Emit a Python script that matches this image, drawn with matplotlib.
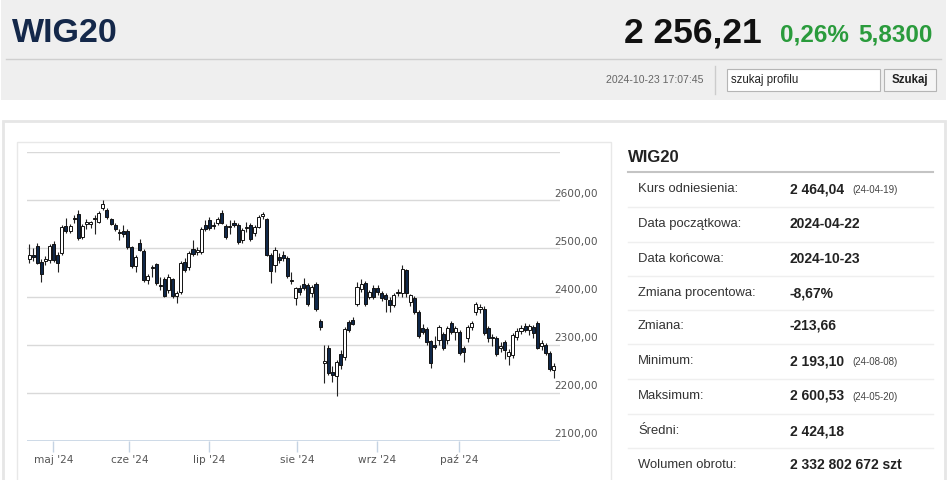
import numpy as np
import matplotlib
matplotlib.use("Agg")
import matplotlib.pyplot as plt
from matplotlib.patches import Rectangle

# ---------- dane ----------
# OHLC dla kolejnych sesji 2024-04-22 .. 2024-10-23
opens = [2478, 2486, 2506, 2472, 2474, 2476, 2510, 2486, 2490, 2546,
         2537, 2564, 2572, 2523, 2550, 2550, 2562, 2556, 2584, 2580,
         2561, 2548, 2534, 2536, 2536, 2503, 2463, 2511, 2495, 2434,
         2460, 2467, 2424, 2436, 2414, 2436, 2402, 2410, 2472, 2461,
         2499, 2492, 2493, 2549, 2559, 2548, 2553, 2574, 2546, 2545,
         2553, 2549, 2518, 2542, 2549, 2532, 2545, 2567, 2561, 2486,
         2466, 2482, 2486, 2480, 2432, 2397, 2418, 2426, 2424, 2407,
         2426, 2349, 2262, 2293, 2243, 2235, 2280, 2274, 2347, 2351,
         2384, 2416, 2428, 2400, 2418, 2418, 2407, 2403, 2393, 2383,
         2408, 2407, 2455, 2389, 2397, 2368, 2334, 2332, 2307, 2300,
         2309, 2322, 2309, 2345, 2326, 2326, 2292, 2313, 2336, 2368,
         2374, 2374, 2334, 2316, 2314, 2292, 2305, 2276, 2278, 2316,
         2328, 2339, 2330, 2336, 2345, 2296, 2300, 2282, 2248]
highs = [2510, 2500, 2512, 2478, 2484, 2510, 2516, 2492, 2548, 2563,
         2550, 2570, 2580, 2550, 2562, 2558, 2570, 2578, 2600.5, 2584,
         2564, 2552, 2540, 2548, 2540, 2506, 2486, 2520, 2498, 2446,
         2466, 2470, 2440, 2440, 2446, 2438, 2412, 2474, 2480, 2494,
         2518, 2502, 2544, 2560, 2566, 2556, 2566, 2580, 2550, 2560,
         2560, 2552, 2542, 2556, 2552, 2548, 2570, 2576, 2564, 2490,
         2502, 2490, 2494, 2484, 2450, 2420, 2424, 2438, 2428, 2424,
         2430, 2354, 2300, 2300, 2256, 2268, 2288, 2336, 2352, 2358,
         2430, 2437, 2432, 2414, 2424, 2424, 2412, 2408, 2398, 2408,
         2416, 2466, 2458, 2406, 2402, 2372, 2342, 2336, 2310, 2318,
         2340, 2326, 2338, 2350, 2338, 2330, 2296, 2340, 2350, 2388,
         2384, 2380, 2338, 2322, 2318, 2306, 2310, 2290, 2324, 2334,
         2340, 2344, 2342, 2340, 2350, 2310, 2304, 2286, 2262]
lows = [2470, 2474, 2468, 2430, 2466, 2470, 2472, 2450, 2486, 2532,
        2532, 2552, 2518, 2520, 2540, 2542, 2530, 2552, 2580, 2562,
        2548, 2536, 2518, 2524, 2498, 2460, 2451, 2494, 2430, 2426,
        2440, 2424, 2414, 2398, 2408, 2396, 2386, 2406, 2450, 2456,
        2484, 2486, 2488, 2536, 2538, 2540, 2548, 2550, 2520, 2530,
        2544, 2510, 2512, 2534, 2516, 2526, 2542, 2562, 2484, 2428,
        2452, 2470, 2474, 2438, 2426, 2383, 2404, 2414, 2380, 2400,
        2370, 2330, 2220, 2236, 2222, 2193.1, 2250, 2268, 2326, 2340,
        2380, 2410, 2380, 2394, 2395, 2404, 2390, 2368, 2368, 2378,
        2402, 2400, 2400, 2380, 2364, 2314, 2322, 2300, 2252, 2290,
        2300, 2288, 2302, 2322, 2310, 2278, 2264, 2306, 2330, 2362,
        2366, 2320, 2306, 2296, 2276, 2284, 2270, 2258, 2272, 2310,
        2322, 2326, 2320, 2314, 2290, 2288, 2278, 2244, 2231]
closes = [2486, 2482, 2470, 2446, 2478, 2506, 2476, 2470, 2544, 2536,
          2546, 2562, 2522, 2546, 2556, 2554, 2563, 2574, 2592, 2566,
          2551, 2540, 2532, 2530, 2503, 2463, 2482, 2497, 2434, 2442,
          2462, 2428, 2422, 2401, 2441, 2401, 2408, 2470, 2455, 2490,
          2489, 2497, 2540, 2540, 2542, 2546, 2561, 2553, 2524, 2546,
          2549, 2514, 2538, 2544, 2520, 2545, 2566, 2571, 2486, 2453,
          2497, 2476, 2480, 2443, 2434, 2418, 2410, 2418, 2384, 2420,
          2374, 2337, 2266, 2241, 2237, 2264, 2257, 2332, 2330, 2343,
          2420, 2426, 2384, 2410, 2399, 2410, 2397, 2395, 2383, 2403,
          2410, 2457, 2407, 2403, 2368, 2318, 2326, 2305, 2262, 2294,
          2336, 2293, 2334, 2326, 2334, 2282, 2284, 2336, 2345, 2384,
          2378, 2324, 2314, 2314, 2281, 2297, 2288, 2284, 2320, 2328,
          2334, 2330, 2338, 2324, 2292, 2304, 2282, 2249, 2256.21]

y_ticks = [2100, 2200, 2300, 2400, 2500, 2600]
y_grid = [2200, 2300, 2400, 2500, 2600, 2700]
month_labels = ["maj '24", "cze '24", "lip '24", "sie '24", "wrz '24", "paź '24"]
month_pos = [5.9, 24.5, 43.9, 65.3, 84.8, 104.9]

info_labels = ["Kurs odniesienia:", "Data początkowa:", "Data końcowa:",
               "Zmiana procentowa:", "Zmiana:", "Minimum:", "Maksimum:",
               "Średni:", "Wolumen obrotu:"]
info_values = ["2 464,04", "2024-04-22", "2024-10-23", "-8,67%", "-213,66",
               "2 193,10", "2 600,53", "2 424,18", "2 332 802 672 szt"]
info_dates = ["(24-04-19)", "", "", "", "", "(24-08-08)", "(24-05-20)", "", ""]

W, H = 948, 480
NAVY = "#0f2748"
GREEN = "#2a9b3c"
SANS = ["Liberation Sans", "DejaVu Sans"]

fig = plt.figure(figsize=(W / 100, H / 100), dpi=100)
fig.patch.set_facecolor("white")

# tło strony w pikselach
bg = fig.add_axes([0, 0, 1, 1])
bg.set_xlim(0, W)
bg.set_ylim(H, 0)
bg.axis("off")

# nagłówek
bg.add_patch(Rectangle((1, 0), W - 3, 100, facecolor="#efefef", edgecolor="none"))
bg.plot([6, 941], [58.5, 58.5], color="#cfcfcf", lw=1)
bg.text(12, 33, "WIG20", fontsize=24.5, fontweight="bold", color="#14284a",
        family=SANS, va="center", ha="left")
bg.text(762, 33, "2 256,21", fontsize=25.5, fontweight="bold", color="#111111",
        family=SANS, va="center", ha="right")
bg.text(780, 35, "0,26%", fontsize=17.5, fontweight="bold", color=GREEN,
        family=SANS, va="center", ha="left")
bg.text(858, 35, "5,8300", fontsize=17.5, fontweight="bold", color=GREEN,
        family=SANS, va="center", ha="left")
bg.text(704, 80, "2024-10-23 17:07:45", fontsize=7.6, color="#666666",
        family=SANS, va="center", ha="right")
bg.plot([715, 715], [66, 94], color="#cccccc", lw=1)
bg.add_patch(Rectangle((727, 69), 153, 22, facecolor="white", edgecolor="#b5b5b5", lw=0.8))
bg.text(731, 80, "szukaj profilu", fontsize=8.3, color="#222222", family=SANS,
        va="center", ha="left")
bg.add_patch(Rectangle((884, 69), 52, 22, facecolor="#f5f5f5", edgecolor="#b5b5b5", lw=0.8))
bg.text(910, 80, "Szukaj", fontsize=8.3, fontweight="bold", color="#222222",
        family=SANS, va="center", ha="center")

# panel z treścią
bg.add_patch(Rectangle((3, 121), 942, 370, facecolor="white", edgecolor="#e6e6e6", lw=2))
bg.add_patch(Rectangle((17, 142), 594, 345, facecolor="white", edgecolor="#e8e8e8", lw=1))

# tabela po prawej
bg.text(628, 157, "WIG20", fontsize=12, fontweight="bold", color="#222222",
        family=SANS, va="center", ha="left")
bg.plot([628, 933], [172, 172], color="#c4c4c4", lw=1.5)
row_y = [189, 224, 259, 293, 326, 361, 396, 431, 465]
for k, (lab, val, dt) in enumerate(zip(info_labels, info_values, info_dates)):
    y = row_y[k]
    bg.text(638, y, lab, fontsize=9.4, color="#333333", family=SANS, va="center", ha="left")
    bg.text(790, y, val, fontsize=10, fontweight="bold", color="#222222",
            family=SANS, va="center", ha="left")
    if dt:
        bg.text(852, y + 1, dt, fontsize=7, color="#444444", family=SANS,
                va="center", ha="left")
    if k < len(row_y) - 1:
        ys = (row_y[k] + row_y[k + 1]) / 2
        bg.plot([628, 933], [ys, ys], color="#efefef", lw=1)

# ---------- wykres świecowy ----------
x0, x1 = 27, 560
ytop, ybot = 152.3, 440.7
ax = fig.add_axes([x0 / W, 1 - ybot / H, (x1 - x0) / W, (ybot - ytop) / H])
ax.set_facecolor("none")
n = len(closes)
idx = np.arange(n)
o = np.array(opens, float)
h = np.array(highs, float)
l = np.array(lows, float)
c = np.array(closes, float)
ax.set_xlim(-0.5, (x1 - 29) / 4.1)
ax.set_ylim(2100, 2700)

for g in y_grid:
    ax.axhline(g, color="#d9d9d9", lw=1, zorder=0)
ax.axhline(2100, color="#c5d3e3", lw=1.2, zorder=0)

ax.vlines(idx, l, h, color="#222222", lw=0.8, zorder=1)
up = c >= o
bottom = np.minimum(o, c)
height = np.maximum(np.abs(c - o), 1.2)
ax.bar(idx[up], height[up], bottom=bottom[up], width=0.75,
       facecolor="white", edgecolor="#111111", lw=0.7, zorder=2)
ax.bar(idx[~up], height[~up], bottom=bottom[~up], width=0.75,
       facecolor=NAVY, edgecolor="#111111", lw=0.7, zorder=2)

for s in ax.spines.values():
    s.set_visible(False)
ax.set_yticks([])
ax.set_xticks(month_pos)
ax.set_xticklabels(month_labels, fontsize=7.6, color="#555555", family="DejaVu Sans")
ax.tick_params(axis="x", length=8, color="#c5d3e3", width=1, pad=2)

for v in y_ticks:
    ax.text(0.989, v + 3, f"{v},00", transform=ax.get_yaxis_transform(),
            fontsize=7.6, color="#555555", family="DejaVu Sans",
            ha="left", va="bottom", clip_on=False)

fig.savefig("out.png", dpi=100)
